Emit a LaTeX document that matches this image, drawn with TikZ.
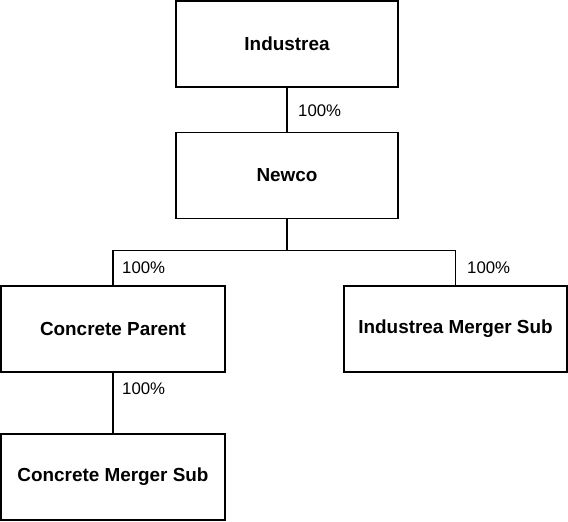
\documentclass[tikz,border=0pt]{standalone}
\usepackage{fontspec}
\setmainfont{Liberation Sans}
\usetikzlibrary{positioning}

\begin{document}
\begin{tikzpicture}[
  x=1pt, y=-1pt,
  ent/.style={draw, line width=1.2pt, minimum width=222pt, minimum height=86pt, inner sep=0pt, font=\fontsize{18.9}{22}\selectfont\bfseries},
  pct/.style={anchor=west, inner sep=0pt, font=\fontsize{16.8}{20}\selectfont},
  own/.style={line width=1.2pt}
]
\useasboundingbox (0,0) rectangle (568,522);

% Entities
\node[ent] (ind)    at (287,44)    {Industrea};
\node[ent] (newco)  at (287,175.5) {Newco};
\node[ent, minimum width=224pt] (cp)  at (113,329)   {Concrete Parent};
\node[ent, minimum width=223pt] (ims) at (455.5,329) {Industrea Merger Sub};
\node[ent, minimum width=224pt] (cms) at (113,477)   {Concrete Merger Sub};

% Ownership lines
\draw[own] (ind) -- (newco);
\draw[own] (newco.south) -- ++(0,31) coordinate (split) -| (cp.north);
\draw[own] (split) -| (ims.north);
\draw[own] (cp) -- (cms);

% Percentages
\node[pct] (p1) at (298,111) {100\%};
\node[pct] (p2) at (122,268) {100\%};
\node[pct] (p3) at (467,268) {100\%};
\node[pct] (p4) at (122,389) {100\%};

\end{tikzpicture}
\end{document}
